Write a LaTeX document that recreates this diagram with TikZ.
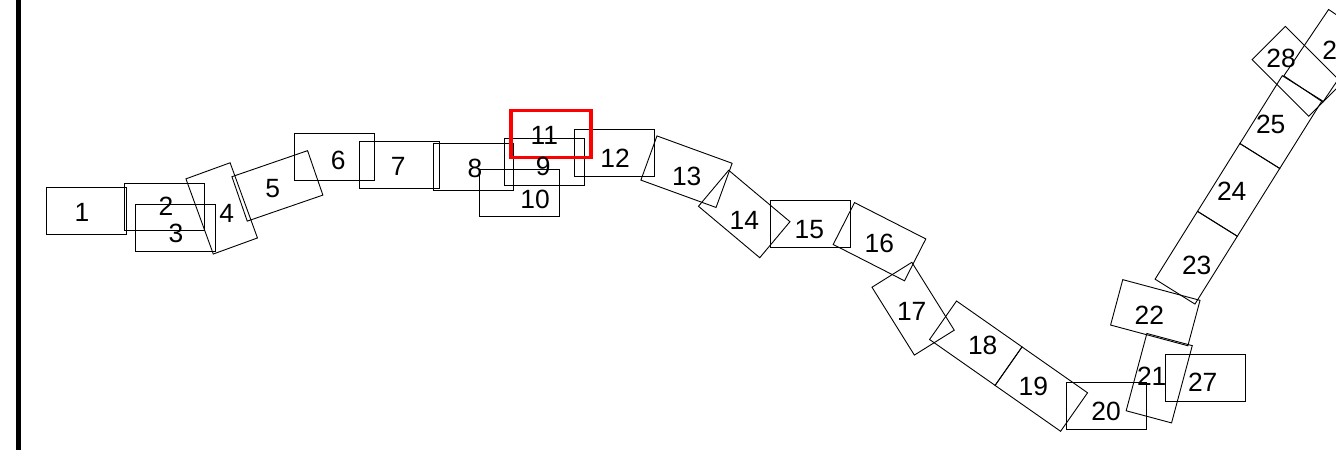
\documentclass[tikz,border=0pt]{standalone}
\usepackage{fontspec}
\setmainfont{Liberation Sans}
\begin{document}
\begin{tikzpicture}[x=1bp,y=-1bp,
  box/.style={draw=black, line width=0.9bp, shape=rectangle, minimum width=80bp, minimum height=47bp, inner sep=0pt, outer sep=0pt},
  hot/.style={box, draw=red, line width=3.5bp},
  lab/.style={inner sep=0pt, outer sep=0pt, font=\fontsize{26.5}{30}\selectfont},
  edge/.style={line width=5bp, draw=black}]
\useasboundingbox (0,0) rectangle (1336,450);
% left border
\coordinate (bt) at (18,0);
\coordinate (bb) at (18,450);
\draw[edge] (bt) -- (bb);
% boxes
\node[box] (b1) at (86.3,211.3) {};
\node[box] (b2) at (164.2,207.3) {};
\node[box] (b3) at (175.5,228) {};
\node[box, rotate=-70] (b4) at (221.7,208.4) {};
\node[box, rotate=19] (b5) at (277.4,185.9) {};
\node[box] (b6) at (334.5,157.2) {};
\node[box] (b7) at (399.3,165.3) {};
\node[box] (b8) at (473,166.8) {};
\node[box] (b9) at (544.7,161.7) {};
\node[box] (b10) at (519.2,193.2) {};
\node[box] (b12) at (614,153) {};
\node[box, rotate=-20] (b13) at (686.5,171.7) {};
\node[box, rotate=-40] (b14) at (744.2,214) {};
\node[box] (b15) at (810,224.2) {};
\node[box, rotate=-27] (b16) at (879.5,241.7) {};
\node[box, rotate=-58] (b17) at (913.1,308.7) {};
\node[box, rotate=-35] (b18) at (975.8,343.2) {};
\node[box, rotate=-35] (b19) at (1041.3,389.1) {};
\node[box] (b20) at (1106.7,406.3) {};
\node[box, rotate=75] (b21) at (1159.2,378.2) {};
\node[box, rotate=-15] (b22) at (1155.3,312.7) {};
\node[box, rotate=58] (b23) at (1196.2,257.7) {};
\node[box, rotate=58] (b24) at (1238.6,189.9) {};
\node[box, rotate=58] (b25) at (1281,122.1) {};
\node[box] (b27) at (1205,378.3) {};
\node[box, rotate=-45] (b28) at (1297,71.3) {};
\node[box, rotate=56] (b29) at (1325.7,55.8) {};
\node[hot] (b11) at (551,134) {};
% labels
\node[lab] (l1) at (82,212) {1};
\node[lab] (l2) at (166,206) {2};
\node[lab] (l3) at (176,233) {3};
\node[lab] (l4) at (226.7,213.3) {4};
\node[lab] (l5) at (272.7,188.3) {5};
\node[lab] (l6) at (338.3,160) {6};
\node[lab] (l7) at (398.3,166.7) {7};
\node[lab] (l8) at (475,168.3) {8};
\node[lab] (l9) at (543.3,166.7) {9};
\node[lab] (l10) at (535,199.3) {10};
\node[lab] (l11) at (544.3,135) {11};
\node[lab] (l12) at (615,158.3) {12};
\node[lab] (l13) at (686.7,176.7) {13};
\node[lab] (l14) at (744.3,220) {14};
\node[lab] (l15) at (809.3,230) {15};
\node[lab] (l16) at (879.3,243.3) {16};
\node[lab] (l17) at (911.7,311.7) {17};
\node[lab] (l18) at (982.7,345) {18};
\node[lab] (l19) at (1033.3,386.7) {19};
\node[lab] (l20) at (1106,411) {20};
\node[lab] (l21) at (1151.7,376.7) {21};
\node[lab] (l22) at (1149.3,315) {22};
\node[lab] (l23) at (1196.7,265) {23};
\node[lab] (l24) at (1231.7,191.7) {24};
\node[lab] (l25) at (1270.7,124) {25};
\node[lab] (l27) at (1202.7,382.7) {27};
\node[lab] (l28) at (1281,58.3) {28};
\node[lab] (l29) at (1337,50.5) {29};
\end{tikzpicture}
\end{document}
